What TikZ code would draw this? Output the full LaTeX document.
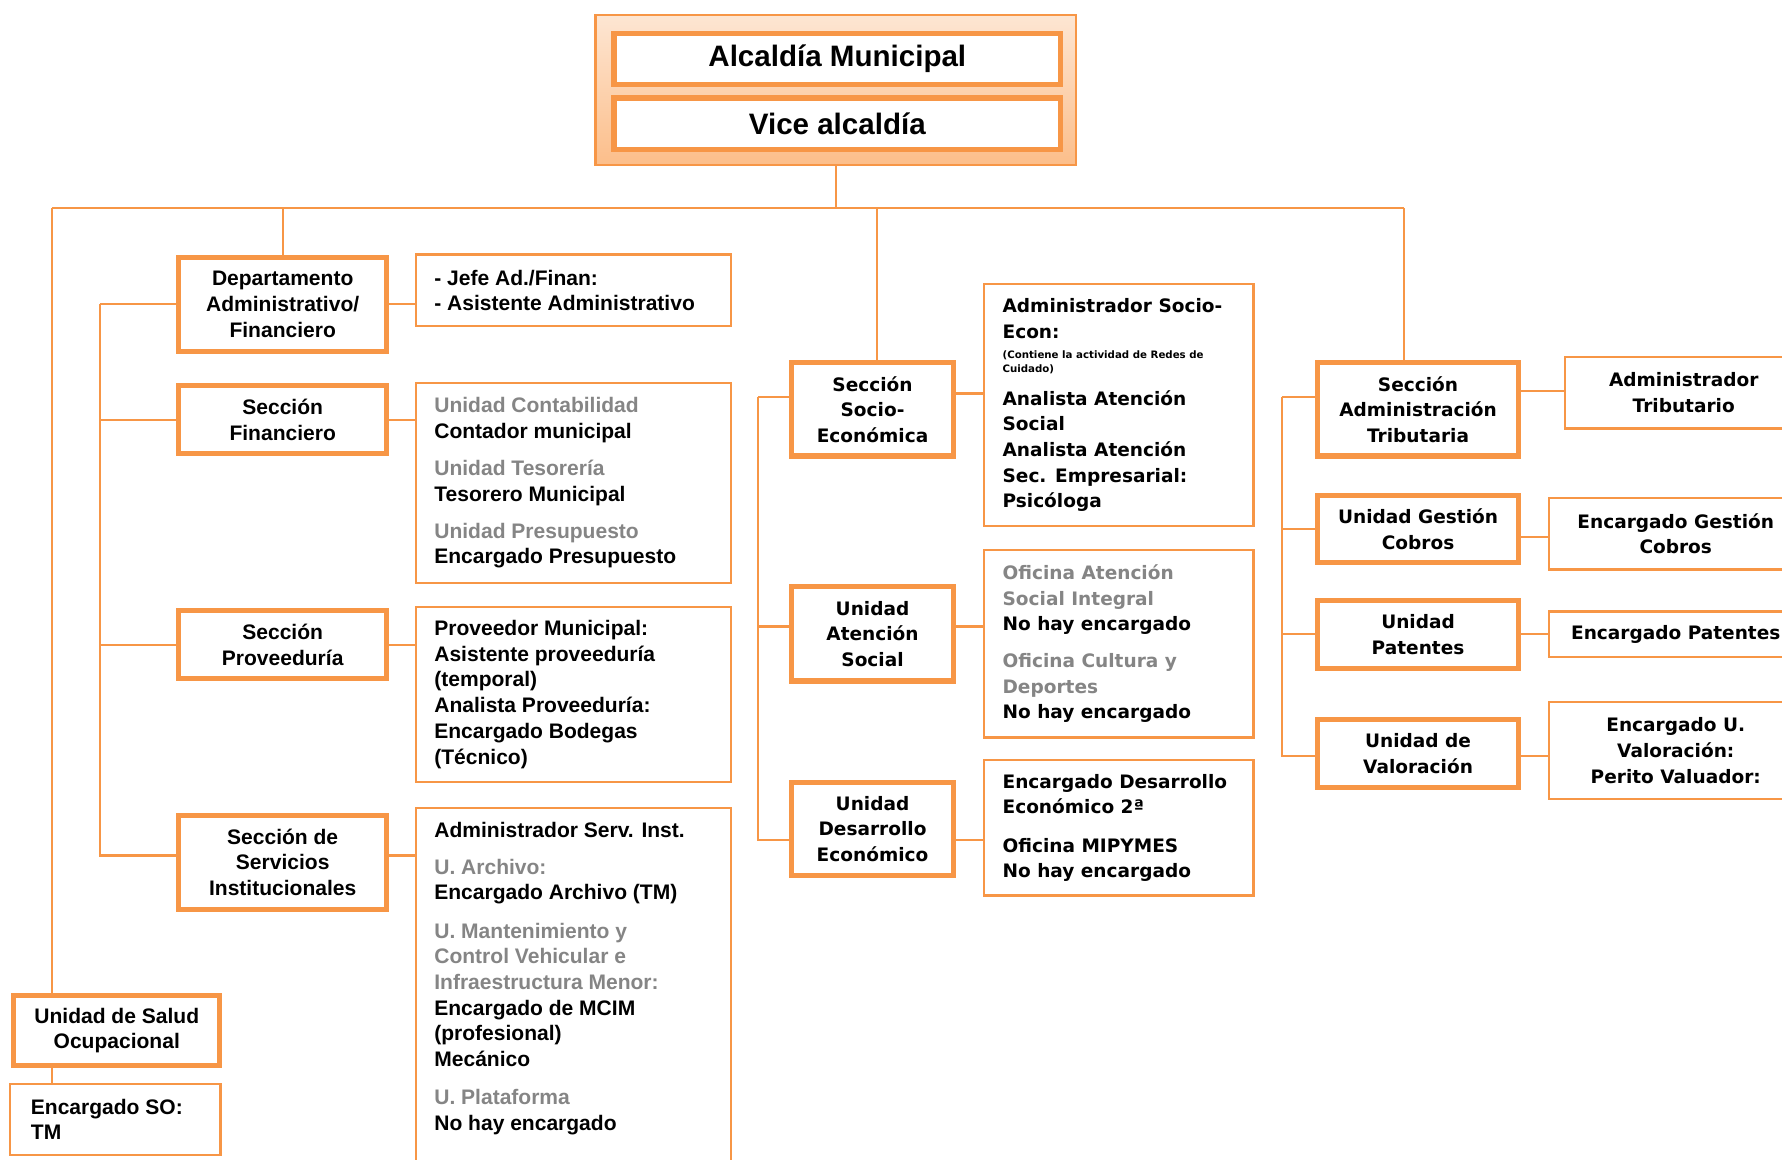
\documentclass[tikz,border=0pt]{standalone}
\usepackage{fontspec}
\setmainfont{Liberation Sans}
\newfontfamily\wideface{DejaVu Sans}
\usetikzlibrary{positioning}

\definecolor{boxorange}{HTML}{F79646}
\definecolor{unitgray}{HTML}{858585}
\definecolor{fadetop}{HTML}{FDE6D3}
\definecolor{fadebot}{HTML}{FCBE8A}

\newcommand\titletxt{\fontsize{26}{30}\selectfont\bfseries}
\newcommand\narrowtxt{\fontsize{18.5}{22.6}\selectfont\bfseries}
\newcommand\widetxt{\wideface\fontsize{16.3}{22.5}\selectfont\bfseries}
\newcommand\smalltxt{\wideface\fontsize{9}{12}\selectfont\bfseries}
\newcommand\graytxt[1]{\textcolor{unitgray}{#1}}

\begin{document}
\begin{tikzpicture}[x=1pt,y=-1pt,
  unitbox/.style={draw=boxorange,line width=4.5pt,fill=white,align=center,inner sep=0pt,anchor=north west},
  infobox/.style={draw=boxorange,line width=2pt,fill=white,inner sep=0pt,anchor=north west},
  infotext/.style={align=left,inner sep=0pt,anchor=west},
  link/.style={boxorange,line width=1.8pt}]
\useasboundingbox (0,0) rectangle (1568,1020);
\clip (0,0) rectangle (1568,1020);

% top
\node[draw=boxorange,line width=2pt,top color=fadetop,bottom color=fadebot,minimum width=423pt,minimum height=132pt,inner sep=0pt,anchor=north west] (mayorFrame) at (523,12) {};
\node[unitbox,minimum width=393pt,minimum height=45pt,font=\titletxt] (mayor) at (538,27) {Alcaldía Municipal};
\node[unitbox,minimum width=393pt,minimum height=45pt,font=\titletxt] (vice) at (538,84) {Vice alcaldía};

% left column
\node[unitbox,minimum width=183pt,minimum height=83pt,font=\narrowtxt] (dept) at (155,224) {Departamento\\Administrativo/\\Financiero};
\node[unitbox,minimum width=183pt,minimum height=60pt,font=\narrowtxt] (fin) at (155,337) {Sección\\Financiero};
\node[unitbox,minimum width=183pt,minimum height=60pt,font=\narrowtxt] (prov) at (155,535) {Sección\\Proveeduría};
\node[unitbox,minimum width=183pt,minimum height=83pt,font=\narrowtxt] (serv) at (155,715) {Sección de\\Servicios\\Institucionales};

\node[infobox,minimum width=277pt,minimum height=63pt] (deptInfo) at (365,223) {};
\node[infotext,font=\narrowtxt] (deptTxt) at ([xshift=17pt]deptInfo.west) {- Jefe Ad./Finan:\\- Asistente Administrativo};
\node[infobox,minimum width=277pt,minimum height=176pt] (finInfo) at (365,336) {};
\node[infotext,font=\narrowtxt] (finTxt) at ([xshift=17pt]finInfo.west) {\graytxt{Unidad Contabilidad}\\Contador municipal\\[10pt]\graytxt{Unidad Tesorería}\\Tesorero Municipal\\[10pt]\graytxt{Unidad Presupuesto}\\Encargado Presupuesto};
\node[infobox,minimum width=277pt,minimum height=154pt] (provInfo) at (365,533) {};
\node[infotext,font=\narrowtxt] (provTxt) at ([xshift=17pt]provInfo.west) {Proveedor Municipal:\\Asistente proveeduría\\(temporal)\\Analista Proveeduría:\\Encargado Bodegas\\(Técnico)};
\node[infobox,minimum width=277pt,minimum height=330pt] (servInfo) at (365,710) {};
\node[infotext,font=\narrowtxt,anchor=north west] (servTxt) at ([xshift=17pt,yshift=-13pt]servInfo.north west) {Administrador Serv. Inst.\\[10pt]\graytxt{U. Archivo:}\\Encargado Archivo (TM)\\[11pt]\graytxt{U. Mantenimiento y}\\\graytxt{Control Vehicular e}\\\graytxt{Infraestructura Menor:}\\Encargado de MCIM\\(profesional)\\Mecánico\\[11pt]\graytxt{U. Plataforma}\\No hay encargado};

\node[unitbox,minimum width=181pt,minimum height=61pt,font=\narrowtxt] (salud) at (10,874) {Unidad de Salud\\Ocupacional};
\node[infobox,minimum width=185pt,minimum height=62pt] (soInfo) at (8,953) {};
\node[infotext,font=\narrowtxt] (soTxt) at ([xshift=19pt]soInfo.west) {Encargado SO:\\TM};

% middle column
\node[unitbox,minimum width=143pt,minimum height=82pt,font=\widetxt] (socio) at (694,317) {Sección\\Socio-\\Económica};
\node[unitbox,minimum width=143pt,minimum height=83pt,font=\widetxt] (aten) at (694,514) {Unidad\\Atención\\Social};
\node[unitbox,minimum width=143pt,minimum height=82pt,font=\widetxt] (desa) at (694,686) {Unidad\\Desarrollo\\Económico};

\node[infobox,minimum width=237pt,minimum height=213pt] (socioInfo) at (865,249) {};
\node[infotext,font=\widetxt] (socioTxt) at ([xshift=17pt]socioInfo.west) {Administrador Socio-\\Econ:\\[-4.5pt]{\smalltxt (Contiene la actividad de Redes de}\\[-10.5pt]{\smalltxt Cuidado)}\\[6.5pt]Analista Atención\\Social\\Analista Atención\\Sec. Empresarial:\\Psicóloga};
\node[infobox,minimum width=237pt,minimum height=165pt] (atenInfo) at (865,483) {};
\node[infotext,font=\widetxt] (atenTxt) at ([xshift=17pt]atenInfo.west) {\graytxt{Oficina Atención}\\\graytxt{Social Integral}\\No hay encargado\\[10pt]\graytxt{Oficina Cultura y}\\\graytxt{Deportes}\\No hay encargado};
\node[infobox,minimum width=237pt,minimum height=119pt] (desaInfo) at (865,668) {};
\node[infotext,font=\widetxt] (desaTxt) at ([xshift=17pt]desaInfo.west) {Encargado Desarrollo\\Económico 2ª\\[11pt]Oficina MIPYMES\\No hay encargado};

% right column
\node[unitbox,minimum width=177pt,minimum height=82pt,font=\widetxt] (trib) at (1157,317) {Sección\\Administración\\Tributaria};
\node[unitbox,minimum width=177pt,minimum height=59pt,font=\widetxt] (cobros) at (1157,434) {Unidad Gestión\\Cobros};
\node[unitbox,minimum width=177pt,minimum height=60pt,font=\widetxt] (pat) at (1157,526) {Unidad\\Patentes};
\node[unitbox,minimum width=177pt,minimum height=60pt,font=\widetxt] (valor) at (1157,631) {Unidad de\\Valoración};

\node[infobox,minimum width=209pt,minimum height=63pt,align=center,font=\widetxt] (tribInfo) at (1376,313) {Administrador\\Tributario};
\node[infobox,minimum width=223pt,minimum height=63pt,align=center,font=\widetxt] (cobrosInfo) at (1362,437) {Encargado Gestión\\Cobros};
\node[infobox,minimum width=223pt,minimum height=40pt,align=center,font=\widetxt] (patInfo) at (1362,537) {Encargado Patentes};
\node[infobox,minimum width=223pt,minimum height=85pt,align=center,font=\widetxt] (valorInfo) at (1362,617) {Encargado U.\\Valoración:\\Perito Valuador:};

% connectors
\coordinate (busL) at (46,183);
\coordinate (busR) at (1235,183);
\coordinate (socioTap) at (772,183);
\coordinate (lsp) at (88,0);
\coordinate (msp) at (667,0);
\coordinate (rsp) at (1128,0);

\draw[link] (mayorFrame.south) -- (mayorFrame.south |- busL);
\draw[link] (busL) -- (busR);
\draw[link] (busL) -- (busL |- salud.north);
\draw[link] (salud.south -| busL) -- (soInfo.north -| busL);
\draw[link] (dept.north |- busL) -- (dept.north);
\draw[link] (socioTap) -- (socioTap |- socio.north);
\draw[link] (busR) -- (busR |- trib.north);

\draw[link] (dept.west -| lsp) |- ([yshift=6pt]serv.west);
\draw[link] (dept.west -| lsp) -- (dept.west);
\draw[link] (fin.west -| lsp) -- (fin.west);
\draw[link] (prov.west -| lsp) -- (prov.west);
\draw[link] (dept.east) -- (dept.east -| deptInfo.west);
\draw[link] (fin.east) -- (fin.east -| finInfo.west);
\draw[link] (prov.east) -- (prov.east -| provInfo.west);
\draw[link] ([yshift=6pt]serv.east) -- ([yshift=6pt]serv.east -| servInfo.west);

\draw[link] ([yshift=11pt]socio.west -| msp) |- ([yshift=-10pt]desa.west);
\draw[link] ([yshift=11pt]socio.west -| msp) -- ([yshift=11pt]socio.west);
\draw[link] ([yshift=6.5pt]aten.west -| msp) -- ([yshift=6.5pt]aten.west);
\draw[link] ([yshift=14pt]socio.east) -- ([yshift=14pt]socio.east -| socioInfo.west);
\draw[link] ([yshift=6.5pt]aten.east) -- ([yshift=6.5pt]aten.east -| atenInfo.west);
\draw[link] ([yshift=-10pt]desa.east) -- ([yshift=-10pt]desa.east -| desaInfo.west);

\draw[link] ([yshift=11pt]trib.west -| rsp) |- ([yshift=-2pt]valor.west);
\draw[link] ([yshift=11pt]trib.west -| rsp) -- ([yshift=11pt]trib.west);
\draw[link] (cobros.west -| rsp) -- (cobros.west);
\draw[link] (pat.west -| rsp) -- (pat.west);
\draw[link] ([yshift=16pt]trib.east) -- ([yshift=16pt]trib.east -| tribInfo.west);
\draw[link] ([yshift=-6.5pt]cobros.east) -- ([yshift=-6.5pt]cobros.east -| cobrosInfo.west);
\draw[link] (pat.east) -- (pat.east -| patInfo.west);
\draw[link] ([yshift=-2pt]valor.east) -- ([yshift=-2pt]valor.east -| valorInfo.west);
\end{tikzpicture}
\end{document}
